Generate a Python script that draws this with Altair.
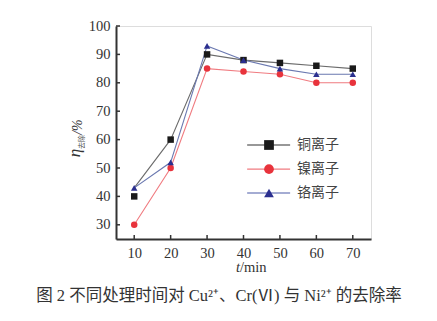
import altair as alt
import pandas as pd

times = [10, 20, 30, 40, 50, 60, 70]
series = ["铜离子", "镍离子", "铬离子"]
cu = [40, 60, 90, 88, 87, 86, 85]
cu_line = [43, 60, 90, 88, 87, 86, 85]
ni = [30, 50, 85, 84, 83, 80, 80]
cr = [43, 52, 93, 88, 85, 83, 83]
x_ticks = [10, 20, 30, 40, 50, 60, 70]
y_ticks = [30, 40, 50, 60, 70, 80, 90, 100]

marker_colors = ["#1a1a1a", "#e8333c", "#2b2f8f"]
line_colors = ["#6b6b6b", "#f07b80", "#6a78b0"]
legend_line_colors = ["#333333", "#f07b80", "#4a5aa8"]
shapes = ["square", "circle", "triangle-up"]

rows = []
for s, mk, ln in [(series[0], cu, cu_line), (series[1], ni, ni), (series[2], cr, cr)]:
    for t, m, l in zip(times, mk, ln):
        rows.append({"t": t, "series": s, "eta": m, "eta_line": l})
df = pd.DataFrame(rows)

xs = alt.Scale(domain=[5, 75], nice=False, zero=False)
ys = alt.Scale(domain=[25, 100], nice=False, zero=False)
col_line = alt.Scale(domain=series, range=line_colors)
col_mark = alt.Scale(domain=series, range=marker_colors)
col_leg = alt.Scale(domain=series, range=legend_line_colors)
shp = alt.Scale(domain=series, range=shapes)

serif = "Liberation Serif"
cjk = "Noto Sans CJK SC"

xaxis = alt.Axis(values=x_ticks, title=None, ticks=False, grid=False,
                 labelFont=serif, labelFontSize=14.5, labelColor="#333",
                 labelPadding=7, domainColor="#333", domainWidth=2,
                 labelOverlap=False)
yaxis = alt.Axis(values=y_ticks, title=None, ticks=False, grid=False,
                 labelFont=serif, labelFontSize=14.5, labelColor="#333",
                 labelPadding=6, domainColor="#333", domainWidth=2,
                 labelOverlap=False)

base = alt.Chart(df)
lines = base.mark_line(strokeWidth=1.1).encode(
    x=alt.X("t:Q", scale=xs, axis=xaxis),
    y=alt.Y("eta_line:Q", scale=ys, axis=yaxis),
    color=alt.Color("series:N", scale=col_line, legend=None),
    detail="series:N",
)
points = base.mark_point(filled=True, opacity=1, size=42).encode(
    x=alt.X("t:Q", scale=xs, axis=xaxis),
    y=alt.Y("eta:Q", scale=ys, axis=yaxis),
    fill=alt.Fill("series:N", scale=col_mark, legend=None),
    shape=alt.Shape("series:N", scale=shp, legend=None),
)

# inward ticks
xt = pd.DataFrame({"v": x_ticks})
yt = pd.DataFrame({"v": y_ticks})
xtick = alt.Chart(xt).mark_rule(color="#333", strokeWidth=1.5).encode(
    x=alt.X("v:Q", scale=xs, axis=xaxis), y=alt.value(213), y2=alt.value(209))
ytick = alt.Chart(yt).mark_rule(color="#333", strokeWidth=1.5).encode(
    y=alt.Y("v:Q", scale=ys, axis=yaxis), x=alt.value(0), x2=alt.value(4))

# legend built from the series names
leg = pd.DataFrame({
    "series": series,
    "ly": [58.1, 49.6, 41.2],
    "x1": [41.0] * 3, "x2": [52.8] * 3, "xm": [47.0] * 3, "xt": [54.7] * 3,
})
leg_lines = alt.Chart(leg).mark_rule(strokeWidth=1.1).encode(
    x=alt.X("x1:Q", scale=xs, axis=xaxis), x2="x2:Q",
    y=alt.Y("ly:Q", scale=ys, axis=yaxis),
    stroke=alt.Stroke("series:N", scale=col_leg, legend=None))
leg_pts = alt.Chart(leg).mark_point(filled=True, opacity=1, size=95).encode(
    x=alt.X("xm:Q", scale=xs, axis=xaxis), y=alt.Y("ly:Q", scale=ys, axis=yaxis),
    fill=alt.Fill("series:N", scale=col_mark, legend=None),
    shape=alt.Shape("series:N", scale=shp, legend=None))
leg_txt = alt.Chart(leg).mark_text(align="left", baseline="middle", font=cjk,
                                   fontSize=14, color="#444").encode(
    x=alt.X("xt:Q", scale=xs, axis=xaxis), y=alt.Y("ly:Q", scale=ys, axis=yaxis),
    text="series:N")

# axis titles and caption as text
one = pd.DataFrame({"a": [0]})
def txt(s, x, y, **kw):
    return alt.Chart(one).mark_text(**kw).encode(
        x=alt.value(x), y=alt.value(y), text=alt.value(s))

ytitle = (
    txt("η", -41, 127, angle=270, font=serif, fontSize=17, fontStyle="italic",
        color="#333", align="center", baseline="middle")
    + txt("去除", -34, 116, angle=270, font=cjk, fontSize=7, color="#555",
          align="center", baseline="middle")
    + txt("/%", -38, 101, angle=270, font=serif, fontSize=14, fontStyle="italic",
          color="#333", align="center", baseline="middle")
)
xtitle = (
    txt("t", 124, 242, font=serif, fontSize=14.5, fontStyle="italic", color="#333",
        align="right", baseline="middle")
    + txt("/min", 124, 242, font=serif, fontSize=14.5, color="#333",
          align="left", baseline="middle")
)
caption = txt("图 2 不同处理时间对 Cu²⁺、Cr(Ⅵ) 与 Ni²⁺ 的去除率", 103, 270,
              font=serif + ", " + cjk, fontSize=16.5, color="#333",
              align="center", baseline="middle")

chart = alt.layer(
    lines, points, xtick, ytick, leg_lines, leg_pts, leg_txt, ytitle, xtitle, caption
).resolve_scale(
    color="independent", fill="independent", stroke="independent"
).properties(
    width=255, height=213,
    autosize=alt.AutoSizeParams(type="none"),
    padding={"left": 116, "top": 26, "right": 66, "bottom": 82},
).configure_view(stroke=None).configure_axis(
    labelOverlap=False, labelBound=False, labelFlush=False
).configure(background="white")

chart.save("out.html", embed_options={"renderer": "svg", "actions": False})
